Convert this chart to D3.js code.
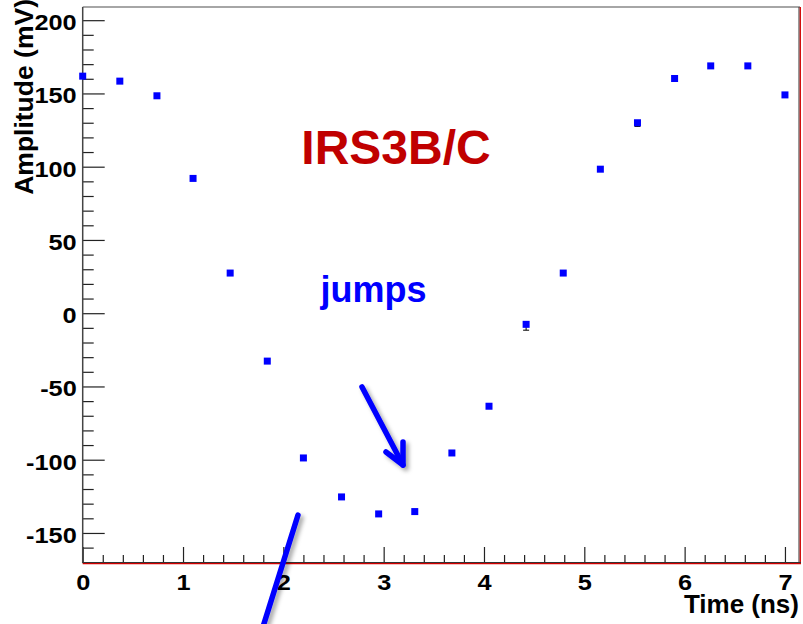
<!DOCTYPE html>
<html>
<head>
<meta charset="utf-8">
<script src="https://cdn.jsdelivr.net/npm/d3@7"></script>
<style>
  html, body { margin: 0; padding: 0; background: #fff; }
  svg { display: block; }
  text { font-family: "Liberation Sans", Arial, sans-serif; font-weight: bold; }
</style>
</head>
<body>
<svg id="chart" width="803" height="624"></svg>
<script>
// Sampled waveform: time of each sample (ns) and its amplitude (mV)
const times = [0, 0.37, 0.74, 1.10, 1.47, 1.84, 2.20, 2.58, 2.95, 3.31,
               3.68, 4.05, 4.42, 4.79, 5.16, 5.53, 5.90, 6.26, 6.63, 7.00];
const amplitudes = [161.8, 158.4, 148.4, 92.0, 27.4, -32.7, -98.8, -125.4, -137.0, -135.4,
                    -95.4, -63.5, -7.6, 27.4, 98.3, 130.0, 160.2, 168.8, 168.8, 149.0];
// Lower error on each sample (mV)
const errLow = [0, 0, 0, 0, 0, 0, 0, 0, 0, 0,
                0, 0, 4.0, 0, 0, 2.5, 0, 0, 0, 0];

const yMajorTicks = [-150, -100, -50, 0, 50, 100, 150, 200];
const xMajorTicks = [0, 1, 2, 3, 4, 5, 6, 7];

const svg = d3.select("#chart");
const plotL = 82.7, plotR = 800, plotT = 7, plotB = 563;

const x = d3.scaleLinear().domain([0, 7.15]).range([plotL, plotR]);
const y = d3.scaleLinear().domain([-170.5, 209]).range([plotB, plotT]);

// widen a text horizontally by a factor (the labels use a wide bold face)
function stretch(sel, k) {
  sel.each(function () {
    const w = this.getComputedTextLength();
    d3.select(this).attr("textLength", w * k).attr("lengthAdjust", "spacingAndGlyphs");
  });
}

// drop shadow for the hand-drawn arrows
const defs = svg.append("defs");
const f = defs.append("filter").attr("id", "shadow")
  .attr("x", "-50%").attr("y", "-50%").attr("width", "200%").attr("height", "200%");
f.append("feDropShadow").attr("dx", 3).attr("dy", 3).attr("stdDeviation", 2)
  .attr("flood-color", "#000").attr("flood-opacity", 0.35);

// frame
svg.append("line").attr("x1", plotL).attr("x2", plotR).attr("y1", plotT).attr("y2", plotT)
  .attr("stroke", "#888").attr("stroke-width", 1.5);
svg.append("line").attr("x1", plotR - 1).attr("x2", plotR - 1).attr("y1", plotT).attr("y2", plotB)
  .attr("stroke", "#333").attr("stroke-width", 1);
svg.append("line").attr("x1", plotR + 0.3).attr("x2", plotR + 0.3).attr("y1", plotT).attr("y2", plotB + 1)
  .attr("stroke", "#d00000").attr("stroke-width", 1.3);

// minor ticks
const yMinor = d3.range(-170, 210, 10).filter(v => v % 50 !== 0);
const xMinor = d3.range(0, 7.15, 0.2).map(v => +v.toFixed(1)).filter(v => Math.abs(v - Math.round(v)) > 1e-6);

const yAxisMinor = d3.axisLeft(y).tickValues(yMinor).tickSize(-11).tickFormat("");
const xAxisMinor = d3.axisBottom(x).tickValues(xMinor).tickSize(-8).tickFormat("");

const gyMinor = svg.append("g").attr("transform", `translate(${plotL},0)`).call(yAxisMinor);
const gxMinor = svg.append("g").attr("transform", `translate(0,${plotB})`).call(xAxisMinor);
[gyMinor, gxMinor].forEach(g => {
  g.select(".domain").remove();
  g.selectAll(".tick line").attr("stroke", "#222").attr("stroke-width", 1.2);
});

// major ticks with labels (plain hyphen for negatives)
const fmt = d => String(d);
const yAxis = d3.axisLeft(y).tickValues(yMajorTicks).tickSize(-22).tickPadding(6).tickFormat(fmt);
const xAxis = d3.axisBottom(x).tickValues(xMajorTicks).tickSize(-16).tickPadding(11).tickFormat(fmt);

const gy = svg.append("g").attr("transform", `translate(${plotL},0)`).call(yAxis);
const gx = svg.append("g").attr("transform", `translate(0,${plotB})`).call(xAxis);
[gy, gx].forEach(g => {
  g.select(".domain").remove();
  g.selectAll(".tick line").attr("stroke", "#222").attr("stroke-width", 1.2);
  g.selectAll(".tick text").attr("fill", "#000")
    .style("font-family", "'Liberation Sans', Arial, sans-serif")
    .style("font-weight", "bold").style("font-size", "22px");
});
gy.selectAll(".tick text").attr("dy", "0.43em");
stretch(gy.selectAll(".tick text"), 1.15);
stretch(gx.selectAll(".tick text"), 1.15);

// axis lines
svg.append("line").attr("x1", plotL).attr("x2", plotL).attr("y1", plotT).attr("y2", plotB)
  .attr("stroke", "#444").attr("stroke-width", 1.5);
svg.append("line").attr("x1", plotL).attr("x2", plotR + 1).attr("y1", plotB - 0.5).attr("y2", plotB - 0.5)
  .attr("stroke", "#333").attr("stroke-width", 1);
svg.append("line").attr("x1", plotL).attr("x2", plotR + 1).attr("y1", plotB + 0.6).attr("y2", plotB + 0.6)
  .attr("stroke", "#d00000").attr("stroke-width", 1.3);

// axis titles
svg.append("text").attr("x", 799).attr("y", 613)
  .attr("text-anchor", "end").style("font-size", "26px").attr("fill", "#000")
  .text("Time (ns)");
svg.append("text")
  .attr("transform", `translate(33,-1) rotate(-90)`)
  .attr("text-anchor", "end").style("font-size", "26.5px").attr("fill", "#000")
  .text("Amplitude (mV)");

// error bars (drawn beneath markers)
const pts = times.map((t, i) => ({ t, a: amplitudes[i], e: errLow[i] }));
const eb = svg.append("g");
pts.filter(d => d.e > 0).forEach(d => {
  eb.append("line").attr("x1", x(d.t)).attr("x2", x(d.t))
    .attr("y1", y(d.a)).attr("y2", y(d.a - d.e)).attr("stroke", "#000").attr("stroke-width", 1);
  eb.append("line").attr("x1", x(d.t) - 3).attr("x2", x(d.t) + 3)
    .attr("y1", y(d.a - d.e)).attr("y2", y(d.a - d.e)).attr("stroke", "#000").attr("stroke-width", 1);
});

// markers
const ms = 7;
svg.append("g").selectAll("rect").data(pts).join("rect")
  .attr("x", d => x(d.t) - ms / 2).attr("y", d => y(d.a) - ms / 2)
  .attr("width", ms).attr("height", ms).attr("fill", "#0000ff");

// annotations
svg.append("text").attr("x", 396).attr("y", 164).attr("text-anchor", "middle")
  .style("font-size", "48px").attr("fill", "#c00000").text("IRS3B/C");
svg.append("text").attr("x", 373.5).attr("y", 302).attr("text-anchor", "middle")
  .style("font-size", "36px").attr("fill", "#0000ff").text("jumps");

const arrows = svg.append("g").attr("filter", "url(#shadow)")
  .attr("stroke", "#0000ff").attr("stroke-width", 5.5)
  .attr("stroke-linecap", "round").attr("stroke-linejoin", "round").attr("fill", "none");
arrows.append("path").attr("d", "M362,387 L403,465");
arrows.append("path").attr("d", "M386,452 L403,465 L403,442");
arrows.append("path").attr("d", "M298,515 L262,630");
</script>
</body>
</html>
